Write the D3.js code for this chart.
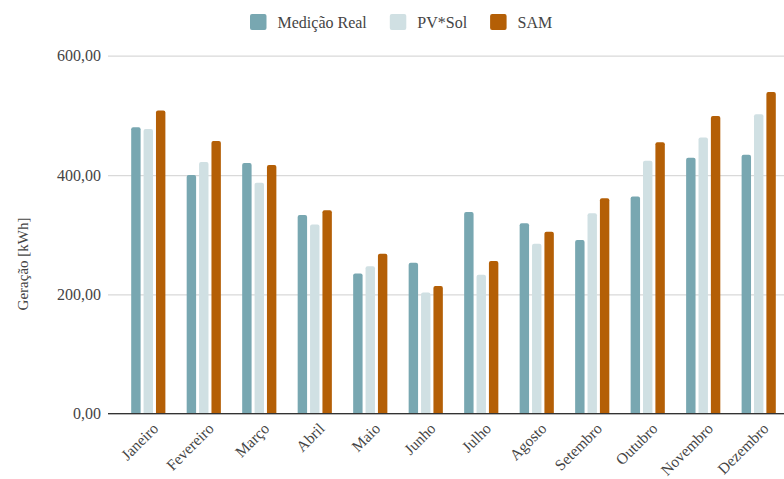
<!DOCTYPE html>
<html>
<head>
<meta charset="utf-8">
<script src="https://cdn.jsdelivr.net/npm/d3@7"></script>
<style>
  html, body { margin: 0; padding: 0; background: #fff; overflow: hidden; }
  svg { display: block; }
</style>
</head>
<body>
<div id="chart"></div>
<script>
// Monthly PV generation: measured vs. two simulation tools
const months = ["Janeiro", "Fevereiro", "Março", "Abril", "Maio", "Junho",
                "Julho", "Agosto", "Setembro", "Outubro", "Novembro", "Dezembro"];
const seriesNames = ["Medição Real", "PV*Sol", "SAM"];
const medicaoReal = [480, 400, 420, 333, 235, 253, 338, 319, 291, 364, 429, 434];
const pvSol       = [477, 422, 387, 317, 247, 203, 233, 285, 336, 424, 463, 502];
const sam         = [508, 457, 417, 341, 268, 214, 256, 305, 361, 455, 499, 539];
const yTicks = [0, 200, 400, 600];
const seriesColors = ["#78a7b1", "#d0e0e3", "#b45f06"];

const W = 784, H = 479;
const margin = { top: 56, left: 110, bottom: 66 };
const plotRight = 797;            // plot area runs slightly past the page edge
const plotBottom = H - margin.bottom + 0.7;

const svg = d3.select("#chart").append("svg")
  .attr("width", W).attr("height", H)
  .style("font-family", "'Liberation Serif', 'Times New Roman', serif");

const x = d3.scaleBand().domain(months)
  .range([margin.left, plotRight]).paddingInner(0).paddingOuter(0.19);
const xs = d3.scaleBand().domain(seriesNames)
  .range([0, x.bandwidth()]).paddingInner(0.24).paddingOuter(0.86);
const y = d3.scaleLinear().domain([0, 600]).range([plotBottom, margin.top - 0.3]);

const fmt = v => d3.format(".2f")(v).replace(".", ",");

// gridlines + y tick labels
const yAxis = d3.axisLeft(y).tickValues(yTicks).tickFormat(fmt)
  .tickSize(-(plotRight - margin.left + 2)).tickPadding(7);
const gy = svg.append("g").attr("transform", `translate(${margin.left - 2},0)`).call(yAxis);
gy.select(".domain").remove();
gy.selectAll(".tick line").attr("stroke", "#d9d9d9").attr("stroke-width", 1.2);
gy.selectAll(".tick text").attr("fill", "#444").style("font-size", "16px")
  .style("font-family", "'Liberation Serif', serif");

// bars with rounded tops
const data = months.map((m, i) => ({
  month: m,
  vals: [medicaoReal[i], pvSol[i], sam[i]].map((v, k) => ({ key: seriesNames[k], v, k }))
}));

function topRounded(x0, y0, w, h, r) {
  r = Math.min(r, w / 2, h);
  return `M${x0},${y0 + h}V${y0 + r}Q${x0},${y0} ${x0 + r},${y0}` +
         `H${x0 + w - r}Q${x0 + w},${y0} ${x0 + w},${y0 + r}V${y0 + h}Z`;
}

svg.append("g").selectAll("g").data(data).join("g")
  .attr("transform", d => `translate(${x(d.month)},0)`)
  .selectAll("path").data(d => d.vals).join("path")
  .attr("fill", d => seriesColors[d.k])
  .attr("d", d => topRounded(xs(d.key), y(d.v), xs.bandwidth(), y(0) - y(d.v), 2));

// baseline
svg.append("line")
  .attr("x1", margin.left - 2).attr("x2", plotRight)
  .attr("y1", y(0)).attr("y2", y(0))
  .attr("stroke", "#333").attr("stroke-width", 1.3);

// x labels, rotated
svg.append("g").selectAll("text").data(months).join("text")
  .attr("transform", d => `translate(${x(d) + x.bandwidth() / 2 + 7},${y(0) + 12}) rotate(-45)`)
  .attr("text-anchor", "end")
  .attr("dy", "0.35em")
  .attr("fill", "#444")
  .style("font-size", "15.5px")
  .text(d => d);

// y axis title
svg.append("text")
  .attr("transform", `translate(28,${264}) rotate(-90)`)
  .attr("text-anchor", "middle")
  .attr("fill", "#444")
  .style("font-size", "15px")
  .text("Geração [kWh]");

// legend
const legend = svg.append("g").attr("transform", "translate(250,14)");
let lx = 0;
seriesNames.forEach((name, k) => {
  const g = legend.append("g").attr("transform", `translate(${lx},0)`);
  g.append("rect").attr("width", 16.5).attr("height", 16).attr("rx", 2)
    .attr("fill", seriesColors[k]);
  const t = g.append("text").attr("x", 27.5).attr("y", 13.5)
    .attr("fill", "#444").style("font-size", "16px").text(name);
  lx += 27.5 + t.node().getComputedTextLength() + 23;
});
</script>
</body>
</html>
